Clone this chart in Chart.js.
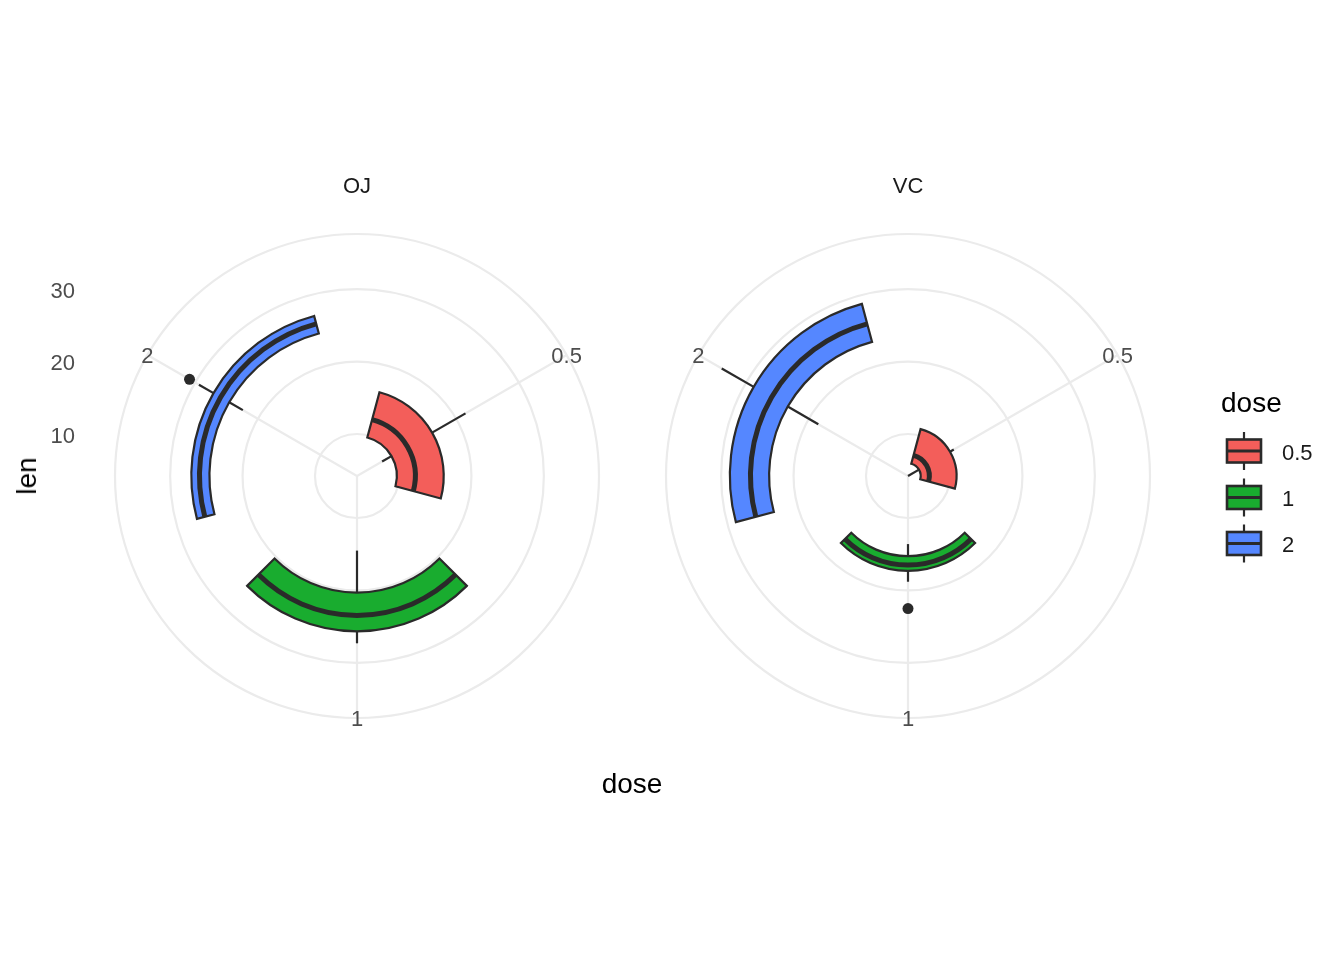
<!DOCTYPE html>
<html>
<head>
<meta charset="utf-8">
<script src="https://cdn.jsdelivr.net/npm/chart.js@4/dist/chart.umd.min.js"></script>
<style>
  html, body { margin: 0; padding: 0; background: #ffffff; }
  #wrap { position: relative; width: 1344px; height: 960px; background: #ffffff; overflow: hidden;
          font-family: "Liberation Sans", Arial, Helvetica, sans-serif; }
  canvas { position: absolute; left: 0; top: 0; }
  .t { position: absolute; line-height: 1; white-space: nowrap; transform: translate(-50%, -50%); }
  .strip { font-size: 22px; color: #1a1a1a; }
  .title { font-size: 28px; color: #000000; }
  .lab { position: absolute; line-height: 1; white-space: nowrap; transform: translate(0, -50%); font-size: 22px; color: #1a1a1a; }
</style>
</head>
<body>
<div id="wrap">
  <canvas id="cOJ" width="1344" height="960"></canvas>
  <canvas id="cVC" width="1344" height="960"></canvas>
  <div class="t strip" style="left:357px; top:186px;">OJ</div>
  <div class="t strip" style="left:908px; top:186px;">VC</div>
  <div class="t title" style="left:27px; top:476px; transform: translate(-50%, -50%) rotate(-90deg);">len</div>
  <div class="t title" style="left:632px; top:784px;">dose</div>
  <div class="lab title" style="left:1221px; top:403px; font-size:28px; color:#000;">dose</div>
  <div class="lab" id="lg0" style="left:1282px; top:453px;"></div>
  <div class="lab" id="lg1" style="left:1282px; top:499px;"></div>
  <div class="lab" id="lg2" style="left:1282px; top:545px;"></div>
</div>
<script>
// ---------------- data (ToothGrowth, len by dose, faceted by supp) ----------------
const doseLevels = ['0.5', '1', '2'];
const suppLevels = ['OJ', 'VC'];
const lenTicks = [10, 20, 30];

const ojLower   = [8.2, 14.5, 22.4];
const ojQ1      = [9.7, 20.3, 24.575];
const ojMedian  = [12.25, 23.45, 25.95];
const ojQ3      = [16.175, 25.65, 27.075];
const ojUpper   = [21.5, 27.3, 29.4];
const ojOutliers = [null, null, 30.9];

const vcLower   = [4.2, 13.6, 18.5];
const vcQ1      = [5.95, 15.275, 23.375];
const vcMedian  = [7.15, 16.5, 25.95];
const vcQ3      = [10.9, 17.3, 28.8];
const vcUpper   = [11.5, 18.8, 33.9];
const vcOutliers = [null, 22.5, null];

const doseColors = ['#F35E5A', '#19AC2F', '#5587FF'];

// ---------------- scale range (coord_polar: data range, outer ring at 0.45/0.4) ----------------
const allVals = [].concat(ojLower, ojUpper, vcLower, vcUpper,
  ojOutliers.filter(v => v !== null), vcOutliers.filter(v => v !== null));
const R_MIN = Math.min(...allVals);
const R_DATA_MAX = Math.max(...allVals);
const R_MAX = R_DATA_MAX + (R_DATA_MAX - R_MIN) * (0.45 / 0.4 - 1);

const BOX_WIDTH = 0.75;
const OUTLINE = '#2A2A2A';
const GRID = '#EBEBEB';
const FONT = '"Liberation Sans", Arial, Helvetica, sans-serif';

document.getElementById('lg0').textContent = doseLevels[0];
document.getElementById('lg1').textContent = doseLevels[1];
document.getElementById('lg2').textContent = doseLevels[2];

function polarBoxPlugin(stats, extras) {
  return {
    id: 'polarBoxes',
    beforeDatasetsDraw(chart) {
      const s = chart.scales.r;
      const ctx = chart.ctx;
      const cx = s.xCenter, cy = s.yCenter;
      const n = doseLevels.length;
      const half = Math.PI * 2 / n * BOX_WIDTH / 2;
      const rad = v => s.getDistanceFromCenterForValue(v);
      ctx.save();
      for (let i = 0; i < n; i++) {
        const a = s.getIndexAngle(i) - Math.PI / 2;
        // whiskers
        ctx.strokeStyle = OUTLINE;
        ctx.lineWidth = 2.2;
        ctx.lineCap = 'butt';
        const seg = (v1, v2) => {
          const p1 = s.getPointPosition(i, rad(v1));
          const p2 = s.getPointPosition(i, rad(v2));
          ctx.beginPath();
          ctx.moveTo(p1.x, p1.y);
          ctx.lineTo(p2.x, p2.y);
          ctx.stroke();
        };
        seg(stats.lower[i], stats.q1[i]);
        seg(stats.q3[i], stats.upper[i]);
        // box
        ctx.beginPath();
        ctx.arc(cx, cy, rad(stats.q3[i]), a - half, a + half, false);
        ctx.arc(cx, cy, rad(stats.q1[i]), a + half, a - half, true);
        ctx.closePath();
        ctx.fillStyle = doseColors[i];
        ctx.fill();
        ctx.lineJoin = 'miter';
        ctx.lineWidth = 2.2;
        ctx.strokeStyle = OUTLINE;
        ctx.stroke();
        // median
        ctx.beginPath();
        ctx.arc(cx, cy, rad(stats.median[i]), a - half, a + half, false);
        ctx.lineWidth = 5;
        ctx.stroke();
      }
      ctx.restore();
    },
    afterDraw(chart) {
      const s = chart.scales.r;
      const ctx = chart.ctx;
      ctx.save();
      ctx.font = '22px ' + FONT;
      ctx.fillStyle = '#4D4D4D';
      // theta labels on the outer ring
      ctx.textAlign = 'center';
      ctx.textBaseline = 'middle';
      for (let i = 0; i < doseLevels.length; i++) {
        const p = s.getPointPosition(i, s.getDistanceFromCenterForValue(R_MAX));
        ctx.fillText(doseLevels[i], p.x, p.y + 2);
      }
      if (extras.axis) {
        ctx.textAlign = 'right';
        for (const v of lenTicks) {
          const y = s.yCenter - s.getDistanceFromCenterForValue(v);
          ctx.fillText(String(v), s.xCenter - 282, y + 2.5);
        }
      }
      if (extras.legend) {
        const keyY = [451, 497.5, 543.5];
        for (let i = 0; i < doseLevels.length; i++) {
          const yc = keyY[i];
          const x0 = 1227, x1 = 1261, xm = 1244;
          ctx.strokeStyle = OUTLINE;
          ctx.lineWidth = 2.2;
          ctx.beginPath();
          ctx.moveTo(xm, yc - 19); ctx.lineTo(xm, yc + 19);
          ctx.stroke();
          ctx.fillStyle = doseColors[i];
          ctx.fillRect(x0, yc - 11.5, x1 - x0, 23);
          ctx.lineWidth = 2.6;
          ctx.strokeRect(x0, yc - 11.5, x1 - x0, 23);
          ctx.lineWidth = 3.2;
          ctx.beginPath();
          ctx.moveTo(x0, yc); ctx.lineTo(x1, yc);
          ctx.stroke();
        }
      }
      ctx.restore();
    }
  };
}

function makeChart(canvasId, outliers, stats, pad, extras) {
  return new Chart(document.getElementById(canvasId), {
    type: 'radar',
    data: {
      labels: doseLevels,
      datasets: [{
        data: outliers,
        showLine: false,
        fill: false,
        borderWidth: 0,
        pointRadius: 5.5,
        pointHoverRadius: 5.5,
        pointBorderWidth: 0,
        pointBackgroundColor: OUTLINE,
        pointBorderColor: OUTLINE
      }]
    },
    options: {
      responsive: false,
      animation: false,
      events: [],
      layout: { padding: pad },
      plugins: { legend: { display: false }, tooltip: { enabled: false } },
      scales: {
        r: {
          min: R_MIN,
          max: R_MAX,
          startAngle: 360 / doseLevels.length / 2,
          afterBuildTicks: (scale) => {
            scale.ticks = [R_MIN].concat(lenTicks, [R_MAX]).map(v => ({ value: v }));
          },
          ticks: { display: false },
          pointLabels: { display: false },
          grid: { circular: true, color: GRID, lineWidth: 2.2 },
          angleLines: { display: true, color: GRID, lineWidth: 2.2 }
        }
      }
    },
    plugins: [polarBoxPlugin(stats, extras)]
  });
}

makeChart('cOJ', ojOutliers,
  { lower: ojLower, q1: ojQ1, median: ojMedian, q3: ojQ3, upper: ojUpper },
  { left: 115, right: 745, top: 234, bottom: 242 },
  { axis: true, legend: true });

makeChart('cVC', vcOutliers,
  { lower: vcLower, q1: vcQ1, median: vcMedian, q3: vcQ3, upper: vcUpper },
  { left: 666, right: 194, top: 234, bottom: 242 },
  { axis: false, legend: false });
</script>
</body>
</html>
